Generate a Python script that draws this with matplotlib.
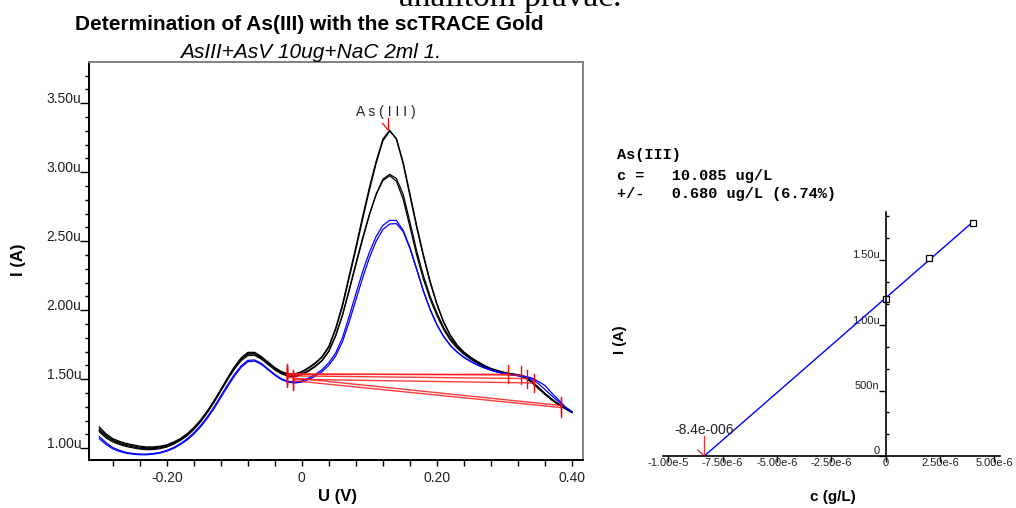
import numpy as np
import matplotlib
matplotlib.use("Agg")
import matplotlib.pyplot as plt
from matplotlib.ticker import MultipleLocator, FixedLocator
from matplotlib.transforms import ScaledTranslation

plt.rcParams['font.family'] = ['Liberation Sans', 'DejaVu Sans']

# ---------------- data: voltammograms ----------------
potential = [round(-0.30 + 0.01 * i, 2) for i in range(71)]

black_1 = [1.155, 1.105, 1.070, 1.050, 1.035, 1.025, 1.015, 1.010, 1.010, 1.015,
           1.025, 1.045, 1.070, 1.105, 1.150, 1.205, 1.270, 1.345, 1.425, 1.510,
           1.590, 1.655, 1.695, 1.695, 1.665, 1.625, 1.585, 1.555, 1.540, 1.540,
           1.557, 1.585, 1.620, 1.665, 1.740, 1.870, 2.040, 2.250, 2.460, 2.680,
           2.890, 3.080, 3.240, 3.305, 3.240, 3.060, 2.830, 2.600, 2.390, 2.200,
           2.040, 1.910, 1.815, 1.745, 1.695, 1.658, 1.628, 1.600, 1.578, 1.562,
           1.549, 1.540, 1.532, 1.518, 1.485, 1.440, 1.395, 1.355, 1.320, 1.290,
           1.262]
black_2 = [1.140, 1.095, 1.062, 1.042, 1.028, 1.018, 1.008, 1.003, 1.004, 1.009,
           1.020, 1.040, 1.066, 1.101, 1.146, 1.201, 1.267, 1.342, 1.423, 1.507,
           1.585, 1.648, 1.688, 1.689, 1.660, 1.620, 1.580, 1.550, 1.535, 1.535,
           1.552, 1.580, 1.615, 1.660, 1.732, 1.860, 2.025, 2.232, 2.440, 2.660,
           2.870, 3.065, 3.228, 3.298, 3.245, 3.072, 2.845, 2.615, 2.402, 2.210,
           2.048, 1.916, 1.819, 1.748, 1.697, 1.659, 1.628, 1.600, 1.578, 1.562,
           1.549, 1.540, 1.533, 1.520, 1.488, 1.443, 1.398, 1.357, 1.321, 1.291,
           1.262]
black_3 = [1.130, 1.085, 1.055, 1.035, 1.020, 1.010, 1.000, 0.997, 0.998, 1.003,
           1.015, 1.035, 1.060, 1.095, 1.140, 1.195, 1.262, 1.338, 1.420, 1.503,
           1.580, 1.643, 1.682, 1.683, 1.655, 1.615, 1.575, 1.545, 1.530, 1.528,
           1.540, 1.565, 1.597, 1.638, 1.705, 1.815, 1.960, 2.140, 2.330, 2.515,
           2.690, 2.840, 2.950, 2.985, 2.955, 2.840, 2.640, 2.430, 2.250, 2.100,
           1.980, 1.875, 1.795, 1.735, 1.690, 1.652, 1.622, 1.595, 1.573, 1.557,
           1.546, 1.537, 1.530, 1.515, 1.482, 1.437, 1.393, 1.352, 1.318, 1.288,
           1.260]
black_4 = [1.120, 1.075, 1.046, 1.027, 1.013, 1.003, 0.994, 0.990, 0.991, 0.997,
           1.009, 1.030, 1.056, 1.091, 1.136, 1.191, 1.258, 1.334, 1.415, 1.497,
           1.573, 1.634, 1.672, 1.673, 1.646, 1.607, 1.568, 1.538, 1.522, 1.520,
           1.533, 1.558, 1.592, 1.634, 1.702, 1.815, 1.965, 2.150, 2.340, 2.525,
           2.695, 2.840, 2.940, 2.975, 2.935, 2.805, 2.605, 2.400, 2.225, 2.080,
           1.962, 1.860, 1.782, 1.725, 1.681, 1.645, 1.616, 1.590, 1.569, 1.553,
           1.543, 1.535, 1.528, 1.512, 1.478, 1.434, 1.390, 1.350, 1.316, 1.287,
           1.258]
blue_1 = [1.085, 1.040, 1.005, 0.985, 0.970, 0.962, 0.958, 0.958, 0.962, 0.970,
          0.985, 1.005, 1.033, 1.068, 1.112, 1.165, 1.228, 1.300, 1.380, 1.460,
          1.535, 1.597, 1.637, 1.640, 1.615, 1.575, 1.535, 1.503, 1.485, 1.480,
          1.488, 1.508, 1.535, 1.570, 1.620, 1.690, 1.800, 1.955, 2.120, 2.280,
          2.420, 2.535, 2.615, 2.652, 2.650, 2.580, 2.455, 2.300, 2.140, 2.005,
          1.895, 1.810, 1.745, 1.698, 1.660, 1.630, 1.605, 1.585, 1.568, 1.553,
          1.542, 1.534, 1.527, 1.522, 1.510, 1.485, 1.455, 1.400, 1.352, 1.300,
          1.265]
blue_2 = [1.070, 1.028, 0.996, 0.977, 0.964, 0.957, 0.953, 0.953, 0.957, 0.965,
          0.979, 0.999, 1.026, 1.060, 1.103, 1.155, 1.217, 1.288, 1.367, 1.447,
          1.522, 1.586, 1.627, 1.632, 1.608, 1.569, 1.529, 1.497, 1.479, 1.473,
          1.480, 1.498, 1.523, 1.556, 1.602, 1.668, 1.770, 1.915, 2.075, 2.235,
          2.380, 2.500, 2.585, 2.625, 2.628, 2.570, 2.448, 2.295, 2.138, 2.004,
          1.894, 1.808, 1.743, 1.696, 1.658, 1.628, 1.602, 1.582, 1.565, 1.550,
          1.540, 1.531, 1.525, 1.518, 1.502, 1.470, 1.425, 1.380, 1.338, 1.296,
          1.262]

# baselines (red) : start / end points
base_x0 = [-0.022, -0.022, -0.022, -0.013, -0.022, -0.013]
base_y0 = [1.540, 1.535, 1.525, 1.500, 1.515, 1.490]
base_x1 = [0.324, 0.305, 0.334, 0.344, 0.384, 0.384]
base_y1 = [1.530, 1.536, 1.505, 1.473, 1.310, 1.295]

peak_pos = 0.127
peak_val = 3.31

yticks_left = [1.0, 1.5, 2.0, 2.5, 3.0, 3.5]
yticklabels_left = ['1.00u', '1.50u', '2.00u', '2.50u', '3.00u', '3.50u']
xticks_left = [-0.2, 0.0, 0.2, 0.4]
xticklabels_left = ['-0.20', '0', '0.20', '0.40']

# ---------------- data: calibration ----------------
conc = [0.0, 2.0e-6, 4.0e-6]
current = [1.202e-6, 1.514e-6, 1.782e-6]
xticks_right = [-1e-5, -7.5e-6, -5e-6, -2.5e-6, 0.0, 2.5e-6, 5e-6]
xticklabels_right = ['-1.00e-5', '-7.50e-6', '-5.00e-6', '-2.50e-6', '0', '2.50e-6', '5.00e-6']
yticks_right = [0.0, 0.5e-6, 1.0e-6, 1.5e-6]
yticklabels_right = ['0', '500n', '1.00u', '1.50u']

W, H = 1016, 508
fig = plt.figure(figsize=(W / 100, H / 100), dpi=100)


def fpos(x0, y0, x1, y1):
    return [x0 / W, 1 - y1 / H, (x1 - x0) / W, (y1 - y0) / H]


def px(x, y):
    return x / W, 1 - y / H


# ---------------- left axes ----------------
ax = fig.add_axes(fpos(89, 62, 583, 460))
ax.set_xlim(-0.3152, 0.4163)
ax.set_ylim(0.915, 3.799)

for s in ['left', 'bottom']:
    ax.spines[s].set_color('black')
    ax.spines[s].set_linewidth(1.4)
for s in ['top', 'right']:
    ax.spines[s].set_color('#808080')
    ax.spines[s].set_linewidth(1.4)

for ys in [black_1, black_2, black_3, black_4]:
    ax.plot(potential, ys, color='black', lw=0.9)
for ys in [blue_1, blue_2]:
    ax.plot(potential, ys, color='#0000ff', lw=0.9)

for x0, y0, x1, y1 in zip(base_x0, base_y0, base_x1, base_y1):
    ax.plot([x0, x1], [y0, y1], color='#ff1a1a', lw=1.0, alpha=0.85)
    ax.plot([x0, x0], [y0 - 0.07, y0 + 0.07], color='#ff0000', lw=1.0)
    ax.plot([x1, x1], [y1 - 0.065, y1 + 0.065], color='#ff0000', lw=1.0)

# peak marker
ax.plot([peak_pos, peak_pos], [peak_val, peak_val + 0.08], color='#ff0000', lw=0.9)
ax.plot([peak_pos - 0.0075, peak_pos], [peak_val + 0.045, peak_val], color='#ff0000', lw=0.9)
ax.text(0.124, 3.44, 'A s ( I I I )', ha='center', va='center', fontsize=10, color='#202020')

ax.yaxis.set_major_locator(FixedLocator(yticks_left))
ax.set_yticklabels(yticklabels_left)
ax.yaxis.set_minor_locator(MultipleLocator(0.1))
ax.xaxis.set_major_locator(FixedLocator(xticks_left))
ax.set_xticklabels(xticklabels_left)
ax.xaxis.set_minor_locator(MultipleLocator(0.04))
ax.tick_params(axis='y', which='major', direction='out', length=6.7, width=1.0,
               pad=-1.2, labelsize=10, labelcolor='#202020')
ax.tick_params(axis='y', which='minor', direction='out', length=3.0, width=1.0)
ax.tick_params(axis='x', which='both', direction='out', length=4.0, width=1.0)
ax.tick_params(axis='x', which='major', pad=4, labelsize=10, labelcolor='#202020')
off = ScaledTranslation(0, 0.045, fig.dpi_scale_trans)
for lab in ax.get_yticklabels():
    lab.set_verticalalignment('center')
    lab.set_transform(lab.get_transform() + off)

# ---------------- right axes ----------------
ax2 = fig.add_axes(fpos(663, 212, 1000, 456))
ax2.set_xlim(-10.24e-6, 5.26e-6)
ax2.set_ylim(0.0, 1.867e-6)
ax2.spines['left'].set_position(('data', 0.0))
ax2.spines['bottom'].set_position(('data', 0.0))
for s in ['top', 'right']:
    ax2.spines[s].set_visible(False)
for s in ['left', 'bottom']:
    ax2.spines[s].set_linewidth(1.2)
ax2.patch.set_visible(False)

slope, intercept = np.polyfit(conc, current, 1)
x_int = -intercept / slope
xl = np.array([x_int, max(conc)])
ax2.plot(xl, slope * xl + intercept, color='#0000ff', lw=1.0)
ax2.plot(conc, current, linestyle='none', marker='s', markersize=4.5,
         markerfacecolor='white', markeredgecolor='black', markeredgewidth=0.9,
         clip_on=False)
# red arrow at x-intercept
ax2.plot([x_int, x_int], [0, 0.15e-6], color='#ff3030', lw=1.0)
ax2.plot([x_int - 0.3e-6, x_int], [0.045e-6, 0.0], color='#ff3030', lw=1.0)
ax2.text(x_int, 0.2e-6, '-8.4e-006', ha='center', va='center', fontsize=10, color='#202020')

ax2.xaxis.set_major_locator(FixedLocator(xticks_right))
ax2.set_xticklabels(xticklabels_right)
ax2.yaxis.set_major_locator(FixedLocator(yticks_right))
ax2.set_yticklabels(yticklabels_right)
ax2.yaxis.set_minor_locator(MultipleLocator(0.5e-6 / 3))
ax2.tick_params(axis='x', which='major', direction='out', length=4.0, width=1.0,
                pad=-2.5, labelsize=8, labelcolor='#202020')
ax2.tick_params(axis='y', which='major', direction='out', length=4.8, width=1.0,
                pad=-0.5, labelsize=8, labelcolor='#202020')
ax2.tick_params(axis='y', which='minor', direction='in', length=2.0, width=1.0)
off2 = ScaledTranslation(0, 0.045, fig.dpi_scale_trans)
for lab in ax2.get_yticklabels():
    lab.set_verticalalignment('center')
    lab.set_transform(lab.get_transform() + off2)

# ---------------- texts ----------------
fig.text(*px(309, 25), 'Determination of As(III) with the scTRACE Gold', ha='center',
         va='center', fontsize=15, fontweight='bold')
fig.text(*px(311, 52), 'AsIII+AsV 10ug+NaC 2ml 1.', ha='center', va='center',
         fontsize=15, style='italic')
fig.text(*px(510, 6), 'analitom pravac.', ha='center', va='baseline', fontsize=24,
         family=['Liberation Serif', 'DejaVu Serif'])
fig.text(*px(19, 260), 'I (A)', rotation=90, ha='center', va='center', fontsize=12,
         fontweight='bold')
fig.text(*px(337, 497), 'U (V)', ha='center', va='center', fontsize=12, fontweight='bold')
fig.text(*px(620, 340), 'I (A)', rotation=90, ha='center', va='center', fontsize=10.5,
         fontweight='bold')
fig.text(*px(833, 497), 'c (g/L)', ha='center', va='center', fontsize=11, fontweight='bold')

mono = ['Liberation Mono', 'DejaVu Sans Mono']
fig.text(*px(617, 155), 'As(III)', ha='left', va='center', fontsize=11,
         fontweight='bold', family=mono)
fig.text(*px(617, 176), 'c =   10.085 ug/L', ha='left', va='center', fontsize=11,
         fontweight='bold', family=mono)
fig.text(*px(617, 194), '+/-   0.680 ug/L (6.74%)', ha='left', va='center', fontsize=11,
         fontweight='bold', family=mono)

fig.savefig('out.png', dpi=100)
